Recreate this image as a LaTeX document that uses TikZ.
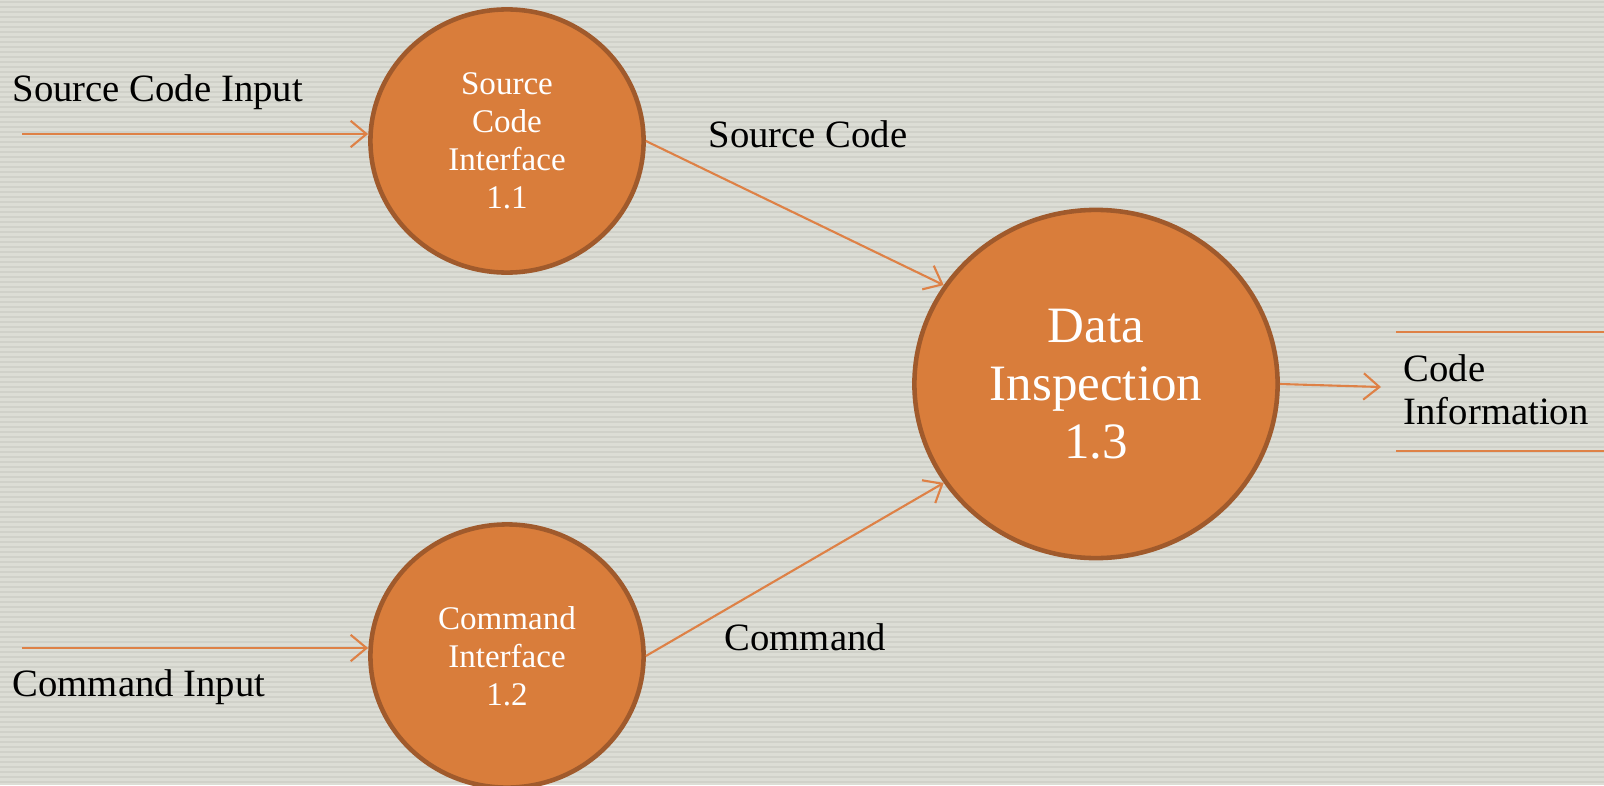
\documentclass[tikz,border=0pt]{standalone}
\usepackage{fontspec}
\setmainfont{Liberation Serif}
\usetikzlibrary{arrows.meta,positioning,shapes.geometric}
\definecolor{procfill}{HTML}{D97D3B}
\definecolor{procline}{HTML}{A05A2C}
\definecolor{flowline}{HTML}{DE8146}
\definecolor{slidebg}{HTML}{DCDDD5}
\definecolor{slidestripe}{HTML}{D0D1C9}

\begin{document}
\begin{tikzpicture}[x=0.01cm,y=-0.01cm,
	process/.style={ellipse,draw=procline,fill=procfill,line width=1.3pt,text=white,align=center,inner sep=0pt},
	flow/.style={draw=flowline,line width=0.6pt,-{Straight Barb[length=4.5pt,width=7.5pt]}},
	flowtext/.style={anchor=base west,inner sep=0pt,font=\fontsize{11}{13}\selectfont}]
	% slide background
	\useasboundingbox (0,0) rectangle (1604,785);
	\fill[slidebg] (0,0) rectangle (1604,785);
	\foreach \sy in {2,7,...,785}
		\draw[slidestripe,line width=0.5pt] (0,\sy) -- (1604,\sy);

	% processes
	\node[process,minimum width=2.73cm,minimum height=2.63cm,font=\fontsize{9.4}{10.8}\selectfont] (sci) at (507,141) {Source\\Code\\Interface\\1.1};
	\node[process,minimum width=2.73cm,minimum height=2.63cm,font=\fontsize{9.4}{10.8}\selectfont] (ci) at (507,656) {Command\\Interface\\1.2};
	\node[process,minimum width=3.63cm,minimum height=3.48cm,font=\fontsize{14.5}{16.5}\selectfont] (di) at (1096,384) {Data\\Inspection\\1.3};

	% inputs
	\coordinate (sciin) at (22,134);
	\coordinate (ciin) at (22,648);
	\draw[flow] (sciin) -- (sciin -| sci.west);
	\draw[flow] (ciin) -- (ciin -| ci.west);
	\node[flowtext] (scilbl) at (12,102) {Source Code Input};
	\node[flowtext] (cilbl) at (12,696) {Command Input};

	% flows into inspection
	\draw[flow] (sci.east) -- (di.147);
	\draw[flow] (ci.east) -- (di.213);
	\node[flowtext] (srclbl) at (708,147) {Source Code};
	\node[flowtext] (cmdlbl) at (724,650) {Command};

	% output store
	\coordinate (infoin) at (1381,387);
	\draw[flow] (di.east) -- (infoin);
	\draw[flowline,line width=0.6pt] (1396,332) -- (1604,332);
	\draw[flowline,line width=0.6pt] (1396,451) -- (1604,451);
	\node[flowtext,anchor=west,align=left,font=\fontsize{11}{12.2}\selectfont] (infolbl) at (1403,390) {Code\\Information};
\end{tikzpicture}
\end{document}
